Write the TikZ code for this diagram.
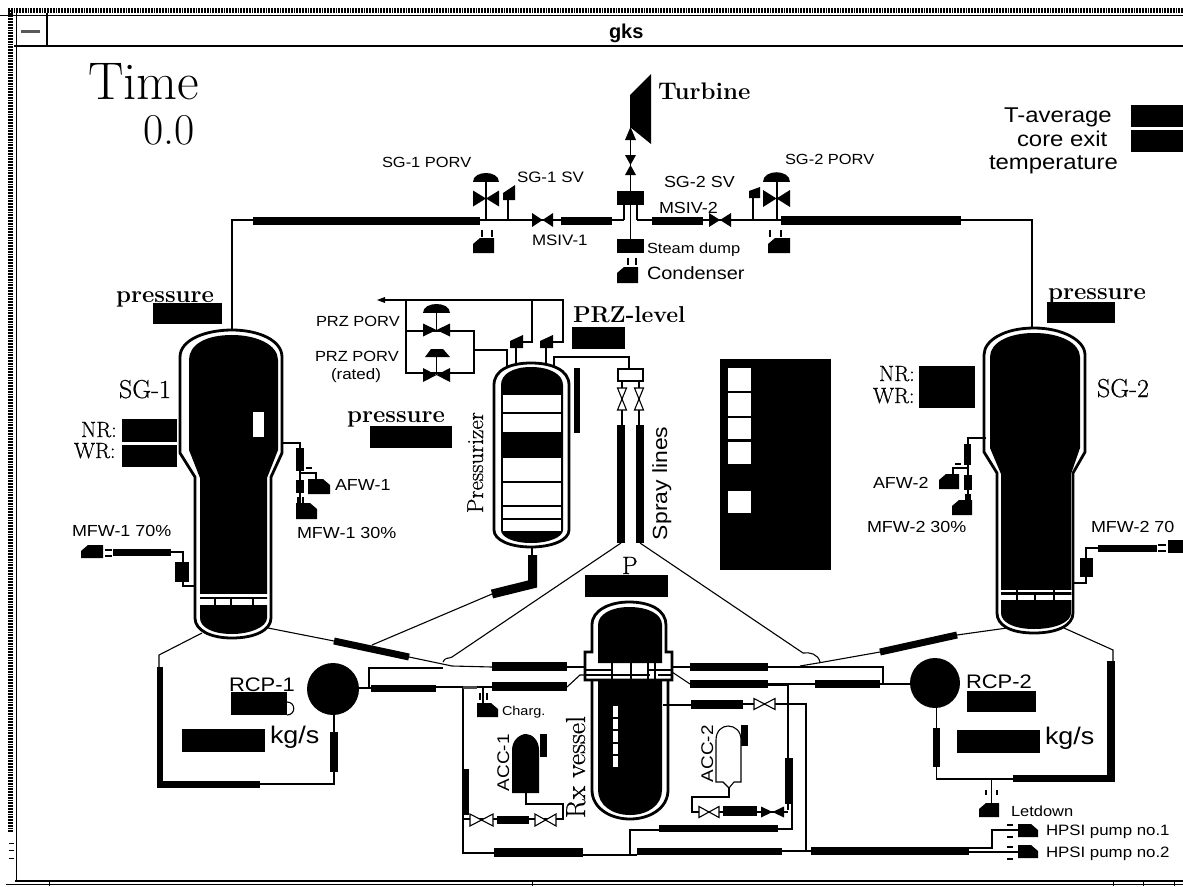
\documentclass[tikz,border=0pt]{standalone}
\usepackage{fontspec}
\setsansfont[FakeStretch=1.12]{Liberation Sans}
\newfontfamily\heavyrm[FakeBold=0.5]{Latin Modern Roman}
\newfontfamily\titlefont{Liberation Sans Bold}
\newcommand{\fs}[1]{\fontsize{#1}{#1}\selectfont}
\newcommand{\fsb}[1]{\fontsize{\fpeval{0.89*#1}}{#1}\selectfont}
\tikzset{
  pipe/.style={line width=1.1pt,draw=black},
  wall/.style={line width=2.8pt,draw=black,fill=white},
  tx/.style={anchor=base west,inner sep=0pt,outer sep=0pt,text=black},
  sans/.style={tx,font=\sffamily\fsb{#1}},
  serif/.style={tx,font=\fs{#1}},
  serifh/.style={tx,font=\heavyrm\fs{#1}},
  serifb/.style={tx,font=\bfseries\fs{#1}}
}
% filled box
\newcommand{\bx}[4]{\fill[black] (#1,#2) rectangle (#3,#4);}
\newcommand{\wbx}[4]{\fill[white] (#1,#2) rectangle (#3,#4);}
% horizontal / vertical bow-tie valves
\newcommand{\hvf}[4]{\fill[black] ({#1-#3},{#2-#4}) -- ({#1+#3},{#2+#4}) -- ({#1+#3},{#2-#4}) -- ({#1-#3},{#2+#4}) -- cycle;}
\newcommand{\hvo}[4]{\draw[pipe,fill=white] ({#1-#3},{#2-#4}) -- ({#1+#3},{#2+#4}) -- ({#1+#3},{#2-#4}) -- ({#1-#3},{#2+#4}) -- cycle;}
\newcommand{\vvf}[4]{\fill[black] ({#1-#3},{#2-#4}) -- ({#1+#3},{#2-#4}) -- ({#1-#3},{#2+#4}) -- ({#1+#3},{#2+#4}) -- cycle;}
\newcommand{\vvo}[4]{\draw[pipe,fill=white] ({#1-#3},{#2-#4}) -- ({#1+#3},{#2-#4}) -- ({#1-#3},{#2+#4}) -- ({#1+#3},{#2+#4}) -- cycle;}
% valve bonnet (dome)
\newcommand{\bon}[4]{\fill[black] (#1,#3) .. controls (#1,#2) and (#4,#2) .. (#4,#3) -- cycle;}
% pumps with a cut corner
\newcommand{\pur}[4]{\fill[black] (#1,#2) -- ({#3-7},#2) -- (#3,{#2+6}) -- (#3,#4) -- (#1,#4) -- cycle;}
\newcommand{\pul}[4]{\fill[black] ({#1+7},#2) -- (#3,#2) -- (#3,#4) -- (#1,#4) -- (#1,{#2+6}) -- cycle;}
% safety valve
\newcommand{\sv}[4]{\fill[black] (#1,#4) -- (#1,{#4-7}) -- (#3,#2) -- (#3,#4) -- cycle;}
\begin{document}
\begin{tikzpicture}[x=1pt,y=-1pt]
\useasboundingbox (0,0) rectangle (1183,886);
\fill[white] (0,0) rectangle (1183,886);

%% window frame
\draw[line width=4.6pt,dash pattern=on 1.8pt off 1pt] (8,10.5) -- (1183,10.5);
\draw[line width=4.6pt,dash pattern=on 1.8pt off 1pt] (10.5,10) -- (10.5,833);
\draw[line width=1.3pt] (0,15.5) -- (1183,15.5);
\draw[line width=1.3pt] (14,46) -- (1183,46);
\draw[line width=1.3pt] (16.5,13) -- (16.5,881);
\draw[line width=1.3pt] (47,13) -- (47,46);
\fill[gray!70!black] (21,30) rectangle (40,33);
\draw[line width=1.6pt] (15,881) -- (1183,881);
\draw[line width=1pt] (6,884.5) -- (1183,884.5);
\foreach \tk in {49,532,1113,1143,1174}{\draw[line width=1pt] (\tk,881) -- (\tk,886);}
\draw[line width=1pt] (9,843) -- (14,843) (9,850) -- (14,850) (9,858) -- (14,858);
\node (title) [tx,font=\titlefont\fs{20}] at (609,38) {gks};

%% time
\node (timeL) [serif=53] at (88,99) {Time};
\node (timeV) [serif=44] at (143,144) {0.0};

%% turbine and steam header
\fill[black] (630,95) -- (651,74) -- (651,144) -- (630,127) -- cycle;
\node (turb) [serifb=24] at (658,99) {Turbine};
\draw[pipe] (630.5,127) -- (630.5,239);
\fill[black] (630.5,127) -- (636,140) -- (625,140) -- cycle;
\vvf{630.5}{165}{5.5}{10}
\bx{617}{191}{644}{205}
\bx{617}{239}{644}{253}
\draw[pipe] (624,205) -- (624,220) (637,205) -- (637,220);
\draw[pipe] (628,258) -- (628,265) (636,258) -- (636,265);
\pul{617}{267}{638}{283}
\node (sdump) [sans=16.5] at (647,253) {Steam dump};
\node (cond) [sans=20] at (647,279) {Condenser};

%% steam line left
\draw[pipe] (232,330) -- (232,220) -- (624,220);
\bx{253}{217}{480}{225}
\hvf{542.5}{220}{10.5}{7}
\bx{561}{217}{612}{225}
\node (porv1L) [sans=16.5] at (382,167) {SG-1 PORV};
\node (sv1L) [sans=17] at (517,182) {SG-1 SV};
\node (ms1L) [sans=17] at (532,245) {MSIV-1};
\draw[pipe] (486,178) -- (486,220) (508,195) -- (508,220);
\bon{473}{170}{182}{499}
\hvf{486}{198.5}{13}{8}
\sv{503}{185}{515}{200}
\draw[pipe] (482,230) -- (482,237) (492,230) -- (492,237);
\pul{473}{238}{494}{253}

%% steam line right
\draw[pipe] (637,220) -- (1032,220) -- (1032,330);
\bx{652}{217}{703}{225}
\hvf{720}{220}{11}{7}
\bx{781}{216}{961}{225}
\node (porv2L) [sans=16.5] at (785,164) {SG-2 PORV};
\node (sv2L) [sans=18] at (664,187) {SG-2 SV};
\node (ms2L) [sans=18] at (659,213) {MSIV-2};
\draw[pipe] (777,178) -- (777,220) (753,195) -- (753,220);
\bon{763}{169}{182}{790}
\hvf{776.5}{198.5}{13.5}{8.5}
\sv{749}{187}{760}{198}
\draw[pipe] (770,230) -- (770,237) (781,230) -- (781,237);
\pul{768}{238}{790}{253}

%% averages
\node (tavg) [sans=24] at (1004,122) {T-average};
\node (core) [sans=24] at (1017,146) {core exit};
\node (temp) [sans=24] at (989,169) {temperature};
\bx{1131}{105}{1183}{127}
\bx{1131}{130}{1183}{152}

%% SG-1
\path[wall] (232,330) .. controls (205,330) and (180,340) .. (180,357) -- (180,453) -- (195,477) -- (195,618) .. controls (195,630) and (210,638) .. (232,638) .. controls (255,638) and (271,630) .. (271,618) -- (271,477) -- (282,453) -- (282,357) .. controls (282,340) and (258,330) .. (232,330) -- cycle;
\fill[black] (232,335) .. controls (205,335) and (189,345) .. (189,360) -- (189,450) -- (200,478) -- (200,618) .. controls (200,627) and (212,634) .. (232,634) .. controls (250,634) and (267,627) .. (267,618) -- (267,478) -- (278,450) -- (278,360) .. controls (278,345) and (257,335) .. (232,335) -- cycle;
\wbx{253}{412}{264}{437}
\wbx{198}{594}{268}{596.5}
\wbx{198}{598.5}{268}{604.5}
\draw[pipe] (215,597) -- (215,605) (231,597) -- (231,605) (253,597) -- (253,605);
\node (sg1) [serifh=26] at (119,398) {SG-1};
\node (nr1) [serifh=22] at (81,437) {NR:};
\node (wr1) [serifh=22] at (74,458) {WR:};
\bx{122}{419}{177}{442}
\bx{122}{445}{177}{467}
\node (p1) [serifb=24] at (116,302) {pressure};
\bx{153}{303}{222}{324}

%% SG-1 feed
\draw[pipe] (283,443) -- (300,443) -- (300,503);
\bx{296}{448}{304}{471}
\draw[pipe] (300,473) -- (316,473) -- (316,480);
\draw[pipe] (306,468) -- (312,468);
\bx{296}{480}{304}{493}
\draw[pipe] (298,497) -- (298,503) (303,497) -- (303,503);
\pur{296}{503}{317}{519}
\pur{308}{479}{330}{494}
\node (afw1) [sans=18] at (335,490) {AFW-1};
\node (mfw30) [sans=18] at (297,538) {MFW-1 30\%};
\node (mfw70) [sans=18] at (72,536) {MFW-1 70\%};
\pul{81}{545}{103}{558}
\draw[pipe] (105,550) -- (112,550) (105,556) -- (112,556);
\bx{113}{549}{171}{556}
\draw[pipe] (171,552) -- (183,552) -- (183,586) -- (196,586);
\bx{175}{562}{189}{582}

%% SG-2
\path[wall] (1034,328) .. controls (1005,328) and (984,340) .. (984,355) -- (984,452) -- (997,473) -- (997,613) .. controls (997,625) and (1010,633) .. (1034,633) .. controls (1058,633) and (1073,625) .. (1073,613) -- (1073,473) -- (1085,452) -- (1085,355) .. controls (1085,340) and (1062,328) .. (1034,328) -- cycle;
\fill[black] (1034,333) .. controls (1008,333) and (990,343) .. (990,357) -- (990,448) -- (1001,474) -- (1001,613) .. controls (1001,622) and (1013,629) .. (1034,629) .. controls (1056,629) and (1071,622) .. (1071,613) -- (1071,474) -- (1080,448) -- (1080,357) .. controls (1080,343) and (1060,333) .. (1034,333) -- cycle;
\wbx{1000}{590}{1072}{592}
\wbx{1000}{594.5}{1072}{600}
\draw[pipe] (1017,590) -- (1017,600) (1035,594) -- (1035,600) (1054,590) -- (1054,600);
\node (sg2) [serifh=26] at (1097,397) {SG-2};
\node (nr2) [serifh=22] at (879,381) {NR:};
\node (wr2) [serifh=22] at (873,403) {WR:};
\bx{919}{366}{975}{408}
\node (p2) [serifb=24] at (1048,299) {pressure};
\bx{1047}{302}{1115}{323}

%% SG-2 feed
\draw[pipe] (986,438) -- (968,438) -- (968,500);
\bx{964}{444}{971}{465}
\draw[pipe] (968,468) -- (953,468) -- (953,474);
\draw[pipe] (955,464) -- (961,464);
\bx{964}{475}{972}{490}
\draw[pipe] (966,494) -- (966,500) (970,494) -- (970,500);
\pul{952}{500}{972}{515}
\pul{939}{474}{959}{489}
\node (afw2) [sans=18] at (873,488) {AFW-2};
\node (mf230) [sans=18] at (867,532) {MFW-2 30\%};
\node (mf270) [sans=18] at (1091,532) {MFW-2 70};
\bx{1098}{545}{1157}{552}
\draw[pipe] (1158,545) -- (1166,545) (1158,551) -- (1166,551);
\bx{1168}{540}{1183}{553}
\draw[pipe] (1098,548) -- (1086,548) -- (1086,583) -- (1073,583);
\bx{1080}{558}{1093}{577}

%% pressurizer relief
\draw[pipe] (406,300) -- (563,300) -- (563,342) -- (553,342);
\fill[black] (377,300) -- (385,297) -- (385,303) -- cycle;
\draw[pipe] (385,300) -- (406,300);
\draw[pipe] (406,300) -- (406,373) -- (474,373) -- (474,331) -- (406,331);
\draw[pipe] (474,350) -- (507,350) -- (507,372);
\draw[pipe] (532,300) -- (532,342) -- (520,342);
\draw[pipe] (436.5,310) -- (436.5,330) (436.5,355) -- (436.5,375);
\hvf{436.5}{330}{13.5}{6.5}
\hvf{436.5}{375}{13.5}{7}
\bon{423}{301}{313}{450}
\fill[black] (425,357) -- (431,349) -- (443,349) -- (450,357) -- cycle;
\draw[pipe] (516,345) -- (516,367) (546,345) -- (546,367);
\sv{510}{335}{523}{348}
\sv{540}{335}{553}{348}
\node (pp1) [sans=16.5] at (316,326) {PRZ PORV};
\node (pp2) [sans=16.5] at (315,361) {PRZ PORV};
\node (pp3) [sans=17] at (331,379) {(rated)};
\node (prl) [serifb=23] at (573,322) {PRZ-level};
\bx{572}{327}{625}{349}
\node (p3) [serifb=24] at (347,422) {pressure};
\bx{370}{426}{452}{448}

%% spray piping
\draw[pipe] (554,370) -- (554,357) -- (629,357) -- (629,369);
\draw[pipe,fill=white] (618,369) rectangle (643,381);
\draw[pipe] (622,381) -- (622,425) (639,381) -- (639,425);
\vvo{622}{399}{4.5}{11}
\vvo{639}{399}{4.5}{11}
\bx{616.5}{425}{625}{543}
\bx{636}{425}{644}{543}
\node (spray) [sans=23,rotate=90] at (667,540) {Spray lines};
\draw[pipe] (621,543) -- (452,657) .. controls (448,659) and (445,657) .. (443,662);
\draw[pipe] (640,543) -- (803,653) .. controls (810,652) and (818,654) .. (820,662);

%% pressurizer
\path[wall] (531,363) .. controls (510,363) and (494,370) .. (494,385) -- (494,530) .. controls (494,540) and (510,547) .. (531,547) .. controls (552,547) and (569,540) .. (569,530) -- (569,385) .. controls (569,370) and (552,363) .. (531,363) -- cycle;
\fill[black] (531,367) .. controls (513,367) and (501,374) .. (501,385) -- (501,530) .. controls (501,537) and (513,543) .. (531,543) .. controls (549,543) and (563,537) .. (563,530) -- (563,385) .. controls (563,374) and (549,367) .. (531,367) -- cycle;
\wbx{503}{395}{561}{432}
\wbx{503}{458}{561}{531}
\draw[pipe] (503,413) -- (561,413) (503,482) -- (561,482) (503,506) -- (561,506) (503,519) -- (561,519);
\bx{574}{368}{580}{433}
\node (przL) [serifh=23,rotate=90] at (483,513) {Pressurizer};

%% surge line
\draw[pipe] (532,547) -- (532,555);
\draw[line width=9pt] (532.5,555) -- (532.5,584) -- (492,594);
\draw[pipe] (492,594) -- (372,645);

%% control panel
\bx{720}{359}{831}{570}
\wbx{728}{368}{751}{391}
\wbx{728}{393}{751}{416}
\wbx{728}{418}{751}{439}
\wbx{728}{442}{751}{464}
\wbx{728}{491}{751}{513}

%% P
\node (pL) [serifh=25] at (622,574) {P};
\bx{585}{575}{668}{597}

%% reactor vessel
\path[wall] (592,680) -- (592,790) .. controls (592,808) and (610,819) .. (630,819) .. controls (650,819) and (668,808) .. (668,790) -- (668,680);
\path[wall] (592,652) -- (592,625) .. controls (592,610) and (610,602) .. (629,602) .. controls (650,602) and (666,610) .. (666,625) -- (666,652) -- (672,652) -- (672,680) -- (665,680) -- (595,680) -- (585,680) -- (585,652) -- cycle;
\fill[white] (588,654) rectangle (669,678);
\fill[black] (598,663) -- (598,625) .. controls (598,614) and (612,607) .. (629,607) .. controls (648,607) and (662,614) .. (662,625) -- (662,663) -- cycle;
\fill[black] (598,680) -- (598,790) .. controls (598,805) and (612,815) .. (630,815) .. controls (648,815) and (662,805) .. (662,790) -- (662,680) -- cycle;
\draw[line width=1.2pt] (585,670) -- (612,670) (648,670) -- (672,670);
\draw[line width=1.2pt] (585,675) -- (650,675) (658,675) -- (672,675);
\draw[line width=1.2pt] (612,663) -- (612,680) (631,663) -- (631,680) (655,663) -- (655,680) (648,663) -- (648,680);
\foreach \ya/\yb in {706/717,719/729,731/742,744/754,756/767}{\wbx{613}{\ya}{618}{\yb}}
\node (rx) [serifh=27.5,rotate=90] at (585,818) {Rx vessel};

%% loop 1
\draw[pipe] (202,633) -- (159,655) -- (159,667);
\bx{157}{667}{163}{788}
\bx{157}{781}{260}{788}
\draw[pipe] (260,784) -- (334,784) -- (334,715);
\bx{330}{732}{338}{772}
\fill[black] (333,689) circle[radius=26];
\node (rcp1) [sans=22] at (229,691) {RCP-1};
\bx{231}{692}{287}{715}
\draw[line width=1.1pt] (287,702) .. controls (296,702) and (296,715) .. (287,715);
\bx{182}{729}{265}{752}
\node (kg1) [sans=27] at (270,743) {kg/s};
\draw[pipe] (268,628) -- (334,641);
\draw[line width=7pt] (334,641) -- (409,657);
\draw[pipe] (409,657) -- (452,666) -- (492,667);
\bx{492}{662}{567}{671}
\draw[pipe] (567,667) -- (585,667);
\draw[pipe] (359,688) -- (371,688);
\bx{371}{685}{436}{692}
\draw[pipe] (436,687) -- (492,687);
\bx{492}{682}{567}{691}
\draw[pipe] (567,687) -- (580,675) -- (585,675);
\draw[pipe] (369,688) -- (369,668) -- (443,668);

%% charging, ACC-1
\draw[pipe] (463,687) -- (463,853) -- (494,853);
\draw[line width=2.5pt,gray!60!black] (463,687.5) -- (477,687.5);
\bx{462}{769}{469}{815}
\draw[pipe] (483,688) -- (483,703);
\draw[pipe] (480,693) -- (480,700) (487,693) -- (487,700);
\pur{477}{703}{498}{717}
\node (chg) [sans=14.5] at (502,715) {Charg.};
\fill[black] (512,793) -- (512,750) .. controls (512,740) and (520,734) .. (526,734) .. controls (532,734) and (539,740) .. (539,750) -- (539,793) -- cycle;
\bx{540}{734}{547}{757}
\node (acc1) [sans=19,rotate=90] at (509,791) {ACC-1};
\draw[pipe] (526,793) -- (526,804) -- (563,804) -- (563,819) -- (464,819);
\bx{497}{816}{529}{824}
\hvo{481.5}{820}{11.5}{6}
\hvo{545.5}{820}{10.5}{6}
\bx{494}{848}{583}{857}
\draw[pipe] (583,855) -- (637,855);

%% loop 2
\draw[pipe] (1064,628) -- (1113,650) -- (1113,661);
\bx{1107}{661}{1115}{782}
\bx{1013}{775}{1115}{782}
\draw[pipe] (1013,779) -- (936.5,779) -- (936.5,708);
\bx{933}{728}{940}{767}
\fill[black] (935,683) circle[radius=25];
\node (rcp2) [sans=22] at (966,688) {RCP-2};
\bx{967}{691}{1036}{712}
\bx{957}{730}{1040}{753}
\node (kg2) [sans=27] at (1045,744) {kg/s};
\draw[pipe] (1007,628) -- (957,635);
\draw[line width=7pt] (957,635) -- (880,652);
\draw[pipe] (880,652) -- (818,663) -- (800,666);
\draw[pipe] (672,667) -- (690,667);
\bx{690}{663}{768}{671}
\draw[pipe] (768,667) -- (883,667) -- (883,684);
\draw[pipe] (672,672) -- (690,684);
\bx{690}{680}{768}{688}
\draw[pipe] (768,684) -- (815,684);
\bx{815}{680}{880}{688}
\draw[pipe] (880,684) -- (910,684);
\draw[pipe] (991.5,779) -- (991.5,803);
\draw[pipe] (986,790) -- (986,795) (997,790) -- (997,795);
\pul{979}{803}{999}{817}
\node (letd) [sans=16.5] at (1011,816) {Letdown};

%% injection right
\draw[pipe] (663,705) -- (692,705);
\bx{691}{700}{743}{709}
\draw[pipe] (743,704) -- (806,704) -- (806,851);
\hvo{764.5}{704}{10.5}{5.5}
\draw[pipe] (768,685) -- (788,685) -- (788,810);
\bx{785}{758}{793}{804}
\fill[black] (741,725) rectangle (748,746);
\draw[pipe,fill=white] (716,782) -- (716,740) .. controls (716,731) and (722,726) .. (728,726) .. controls (735,726) and (741,731) .. (741,740) -- (741,782) -- (734,782) -- (729,788) -- (723,782) -- cycle;
\node (acc2) [sans=19,rotate=90] at (713,782) {ACC-2};
\draw[pipe] (729,788) -- (729,797) -- (692,797) -- (692,812) -- (788,812);
\hvo{709}{812}{10}{5.5}
\bx{723}{806}{757}{816}
\hvf{772.5}{812}{11.5}{5.5}
\bx{659}{825}{778}{832}
\draw[pipe] (778,829) -- (792,829) -- (792,804);
\draw[pipe] (659,830) -- (630,830) -- (630,855);
\bx{637}{848}{782}{855}
\draw[pipe] (782,851) -- (811,851);
\bx{811}{847}{969}{855}
\draw[pipe] (969,848) -- (992,848) -- (992,830) -- (1018,830);
\draw[pipe] (969,852) -- (1018,852);
\draw[pipe] (1007,825) -- (1013,825) (1007,837) -- (1013,837) (1007,847) -- (1013,847) (1007,859) -- (1013,859);
\pur{1018}{824}{1038}{837}
\pur{1018}{845}{1038}{858}
\node (hp1) [sans=16.9] at (1046,835) {HPSI pump no.1};
\node (hp2) [sans=16.9] at (1046,857) {HPSI pump no.2};
\end{tikzpicture}
\end{document}
